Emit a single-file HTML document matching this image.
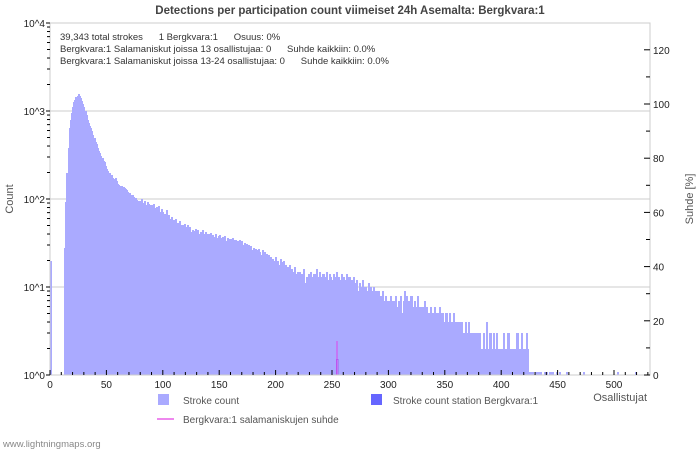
<!DOCTYPE html>
<html><head><meta charset="utf-8">
<style>
body{margin:0;background:#fff;}
svg{display:block;font-family:"Liberation Sans","DejaVu Sans",sans-serif;}
</style></head>
<body>
<svg id="chart" width="700" height="450" viewBox="0 0 700 450">
<rect x="0" y="0" width="700" height="450" fill="#fff"/>
<text x="350" y="14" text-anchor="middle" font-size="11.5" font-weight="bold" fill="#444">Detections per participation count viimeiset 24h Asemalta: Bergkvara:1</text>
<g id="grid"></g>
<g id="bars" shape-rendering="crispEdges"></g>
<rect x="50" y="23" width="600" height="352" fill="none" stroke="#ccc" stroke-width="1"/>
<g id="axes"></g>
<g font-size="9.5" fill="#333">
<text x="60" y="40">39,343 total strokes &#160;&#160;&#160;&#160;&#160;1 Bergkvara:1 &#160;&#160;&#160;&#160;&#160;Osuus: 0%</text>
<text x="60" y="52">Bergkvara:1 Salamaniskut joissa 13 osallistujaa: 0 &#160;&#160;&#160;&#160;&#160;Suhde kaikkiin: 0.0%</text>
<text x="60" y="64">Bergkvara:1 Salamaniskut joissa 13-24 osallistujaa: 0 &#160;&#160;&#160;&#160;&#160;Suhde kaikkiin: 0.0%</text>
</g>
<text transform="translate(13,199) rotate(-90)" text-anchor="middle" font-size="11" fill="#555">Count</text>
<text transform="translate(693,199) rotate(-90)" text-anchor="middle" font-size="11" fill="#555">Suhde [%]</text>
<text x="647" y="401" text-anchor="end" font-size="11" fill="#555">Osallistujat</text>
<g font-size="10" fill="#555">
<rect x="158" y="394" width="11" height="11" fill="#aaaaff"/>
<text x="183" y="404">Stroke count</text>
<rect x="371" y="394" width="11" height="11" fill="#6666ff"/>
<text x="393" y="404">Stroke count station Bergkvara:1</text>
<line x1="157" y1="419" x2="174" y2="419" stroke="#ee88ee" stroke-width="2"/>
<text x="183" y="423">Bergkvara:1 salamaniskujen suhde</text>
</g>
<text x="3" y="447" font-size="9.5" fill="#888">www.lightningmaps.org</text>
</svg>
<script>
const counts = [
20,0,0,0,0,0,0,0,0,0,0,0,0,28,92,200,380,640,800,950,
1100,1250,1350,1450,1500,1550,1500,1400,1300,1200,1100,1000,900,800,740,680,640,600,540,490,
450,420,380,350,330,310,290,270,260,240,
220,210,200,195,185,175,170,165,175,160,
150,145,140,140,135,138,133,130,125,120,
118,112,108,110,105,100,103,98,94,96,
92,100,88,90,95,85,92,88,84,86,
85,80,88,78,82,76,84,72,70,76,
72,68,65,75,62,66,60,58,62,57,
55,60,52,54,50,56,48,50,47,52,
48,46,50,44,48,42,45,43,41,46,
41,44,40,42,38,45,40,39,42,37,
40,38,41,36,39,37,35,40,36,38,
39,36,35,37,34,38,33,36,35,32,
35,33,36,31,34,30,33,32,34,31,
33,30,32,29,31,28,30,27,29,26,
28,25,27,26,24,27,25,23,26,22,
25,21,24,20,23,22,19,21,20,18,
22,19,20,18,21,17,19,20,16,18,
17,15,18,14,16,15,13,17,14,15,
13,15,12,14,13,16,11,13,12,14,
12,15,13,11,14,12,16,13,11,15,
13,12,14,11,13,15,12,10,14,13,
12,14,11,13,15,10,13,12,14,11,
13,12,10,14,11,13,9,12,10,13,
11,10,12,9,11,10,8,12,10,9,
10,9,11,8,10,9,7,10,8,9,
8,9,7,8,6,9,7,8,6,7,
7,6,8,5,7,6,8,5,6,7,
6,8,5,7,9,6,8,5,7,6,
8,5,6,7,5,6,8,5,6,5,
6,5,7,4,6,5,4,6,5,4,
5,6,4,5,4,6,5,4,5,4,
4,5,4,3,5,4,4,3,5,4,
4,3,4,4,3,4,3,3,4,3,
3,4,3,3,2,3,3,2,3,3,
2,3,2,2,3,2,2,4,2,2,
3,2,2,3,2,2,3,2,2,2,
2,2,3,2,2,2,3,2,2,2,
2,1,2,2,3,2,1,2,3,2,
2,2,3,2,1,1,0,1,1,0,
1,0,1,1,0,1,0,0,1,0,
1,0,0,1,0,1,0,0,0,1,
0,0,1,0,0,0,0,0,1,0,
0,0,0,0,0,0,0,0,0,0,
0,0,0,1,0,0,0,0,0,0,
0,0,0,0,0,0,0,0,0,0,
0,0,0,0,0,0,0,0,0,0,
0,0,0,1,0,0,0,0,0,0,
0,0,0,0,0,0,0,0,0,1
];
const stationIndex = [254];
const stationCounts = [1.5];
const ratioIndex = [254];
const ratioValues = [12.5];
const yTickLabels = ["10^0","10^1","10^2","10^3","10^4"];
const xTickValues = [0,50,100,150,200,250,300,350,400,450,500];
const rightTickValues = [0,20,40,60,80,100,120];

const NS = "http://www.w3.org/2000/svg";
const X0 = 50, XS = 1.128, Y0 = 375, DEC = 88, RS = 2.71;
function xScale(u){ return X0 + u*XS; }
function yScale(c){ return Y0 - DEC*Math.log10(c); }
function rScale(p){ return Y0 - p*RS; }
function mk(tag, attrs, parent){
  const e = document.createElementNS(NS, tag);
  for (const k in attrs) e.setAttribute(k, attrs[k]);
  parent.appendChild(e);
  return e;
}
const grid = document.getElementById('grid');
const bars = document.getElementById('bars');
const axes = document.getElementById('axes');

yTickLabels.forEach((lab, i) => {
  const y = Y0 - i*DEC;
  if (i > 0 && i < yTickLabels.length - 1) {
    const g = mk('line', {x1:X0, x2:650, y1:y, y2:y, stroke:'#ccc', 'stroke-width':1}, grid);
    
    
  }
  const t = mk('text', {x:45, y:y+4, 'text-anchor':'end', 'font-size':10, fill:'#222'}, axes);
  t.textContent = lab;
  
  
  if (i < yTickLabels.length - 1) {
    for (let m = 2; m <= 9; m++) {
      const yy = y - DEC*Math.log10(m);
      const tk = mk('line', {x1:47, x2:50, y1:yy, y2:yy, stroke:'#000', 'stroke-width':1}, axes);
      
      
    }
  }
  const mt = mk('line', {x1:46, x2:50, y1:y, y2:y, stroke:'#000', 'stroke-width':1}, axes);
  
  
});

counts.forEach((c, u) => {
  if (c <= 0) return;
  const y = Math.round(Math.min(yScale(c), Y0 - 3));
  const x = Math.floor(xScale(u));
  const w = Math.max(1, Math.ceil(xScale(u+1)) - x);
  const r = mk('rect', {x:x, y:y, width:w, height:Y0-y, fill:'#aaaaff'}, bars);
  
  
});
stationIndex.forEach((u, i) => {
  const y = yScale(stationCounts[i]);
  const r = mk('rect', {x:xScale(u), y:y, width:XS+0.6, height:Y0-y, fill:'#aaaaff', stroke:'#9966ee', 'stroke-width':0.8}, bars);
  
  
});
ratioIndex.forEach((u, i) => {
  const x = xScale(u) + XS/2;
  const l = mk('line', {x1:x, x2:x, y1:Y0, y2:rScale(ratioValues[i]), stroke:'#dd44ee', 'stroke-width':1}, bars);
  
  
});

for (let v = 0; v <= 530; v += 10) {
  const x = xScale(v);
  const major = v % 50 === 0;
  const tk = mk('line', {x1:x, x2:x, y1:Y0, y2:Y0 - (major ? 5 : 3), stroke:'#000', 'stroke-width':1}, axes);
  
  
}
xTickValues.forEach(v => {
  const t = mk('text', {x:xScale(v), y:388, 'text-anchor':'middle', 'font-size':10, fill:'#222'}, axes);
  t.textContent = v;
  
  
});
for (let v = 0; v <= 125; v += 10) {
  const y = rScale(v);
  const major = v % 20 === 0;
  const tk = mk('line', {x1:major ? 644 : 646, x2:650, y1:y, y2:y, stroke:'#000', 'stroke-width':1}, axes);
  
  
}
rightTickValues.forEach(v => {
  const t = mk('text', {x:653, y:rScale(v)+4, 'font-size':10, fill:'#222'}, axes);
  t.textContent = v;
  
  
});
</script>
</body></html>
